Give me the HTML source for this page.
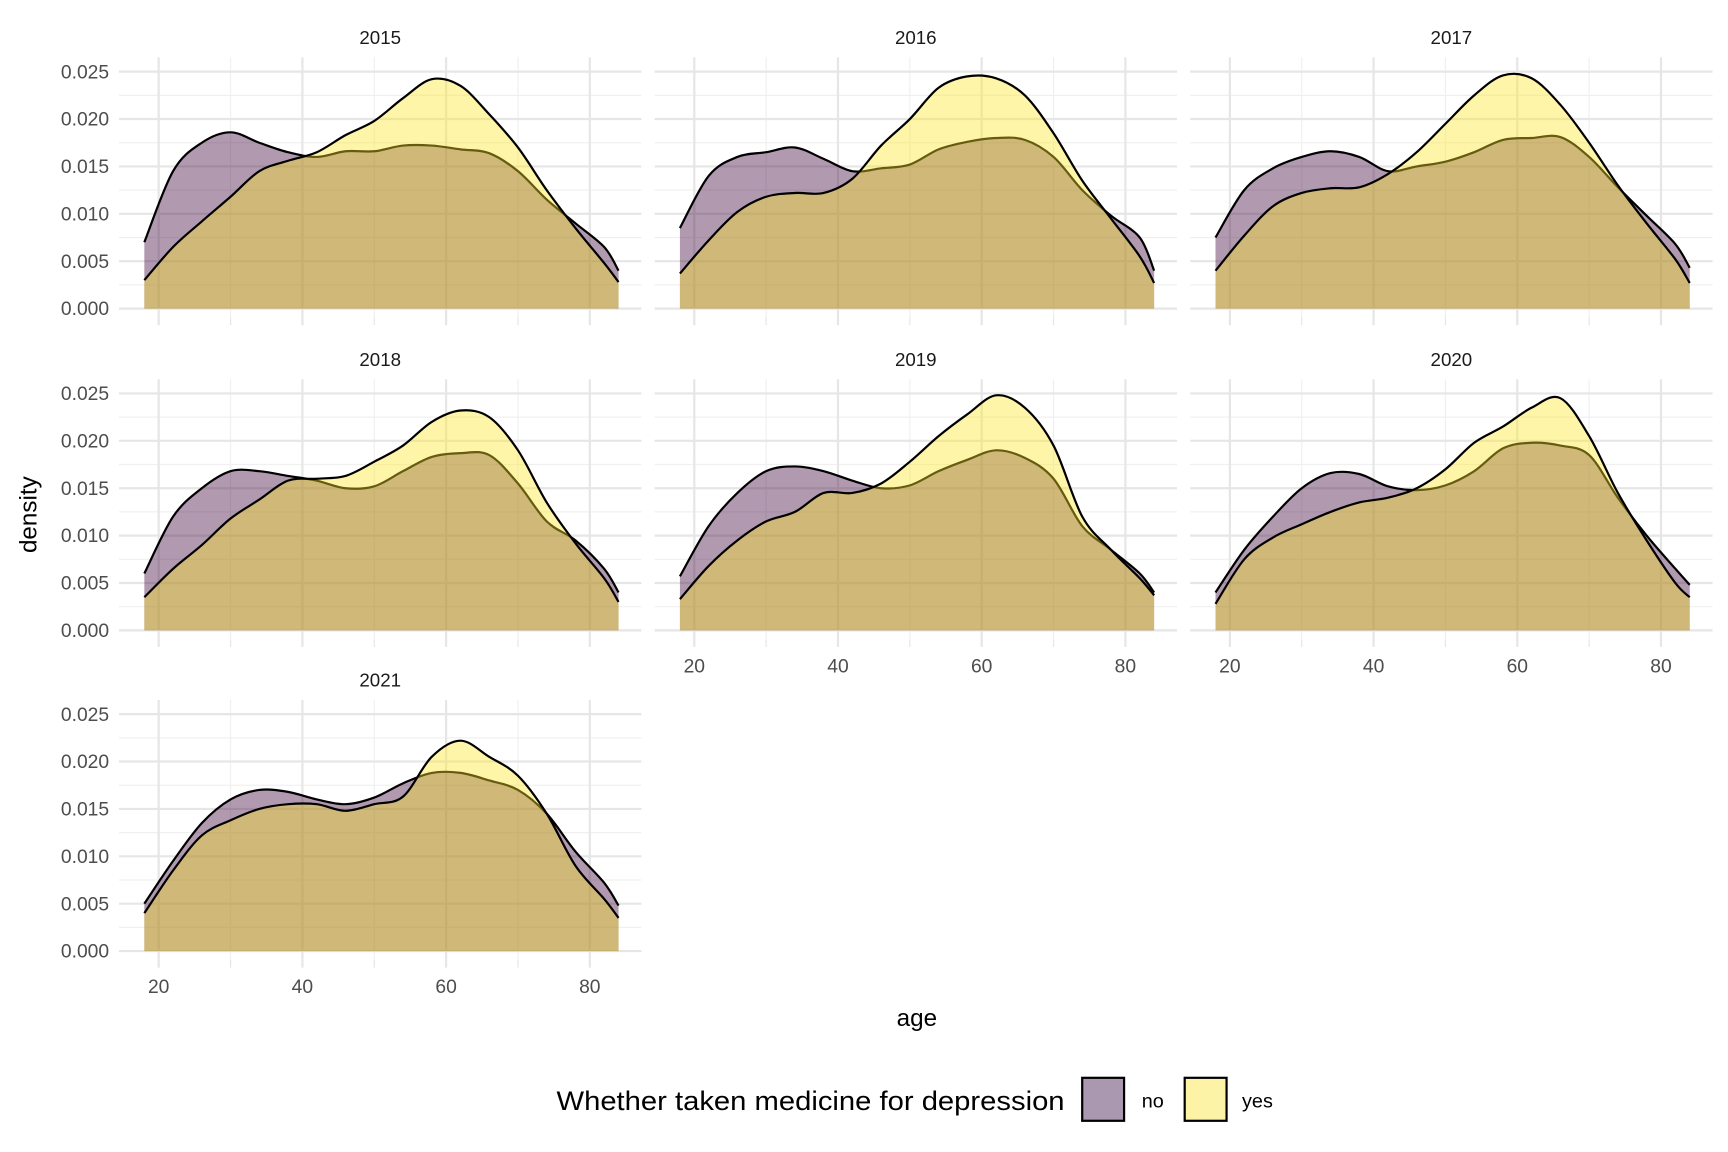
<!DOCTYPE html>
<html><head><meta charset="utf-8"><style>
html,body{margin:0;padding:0;background:#fff;}
svg{display:block;font-family:"Liberation Sans",Arial,sans-serif;}
</style></head><body>
<svg id="chart" width="1728" height="1152" viewBox="0 0 1568 1045.3" xmlns="http://www.w3.org/2000/svg">
<g id="panels"></g>
<text x="832" y="931" font-size="22" text-anchor="middle" fill="#000">age</text>
<text x="33" y="467" font-size="22" text-anchor="middle" fill="#000" transform="rotate(-90 33 467)">density</text>
<g>
<text x="966" y="1007" font-size="24" text-anchor="end" fill="#000" textLength="461" lengthAdjust="spacingAndGlyphs">Whether taken medicine for depression</text>
<rect x="982" y="978" width="38" height="39" fill="#a998b0" stroke="#000" stroke-width="2"/>
<text x="1036" y="1005" font-size="18" fill="#000">no</text>
<rect x="1075" y="978" width="38" height="39" fill="#fcf3a6" stroke="#000" stroke-width="2"/>
<text x="1127" y="1005" font-size="18" fill="#000">yes</text>
</g>
</svg>
<script>
const years = ["2015","2016","2017","2018","2019","2020","2021"];
const ages = [18,22,26,30,34,38,42,46,50,54,58,62,66,70,74,78,82,84];
const xTicks = [20,40,60,80];
const yTicks = [0,0.005,0.010,0.015,0.020,0.025];
const yTickLabels = ["0.000","0.005","0.010","0.015","0.020","0.025"];
const noVals = [
 [.007,.0145,.0175,.0186,.0175,.0165,.016,.0166,.0166,.0172,.0172,.0168,.0164,.0145,.0115,.009,.0065,.004],
 [.0085,.014,.016,.0165,.017,.0158,.0145,.0148,.0152,.0168,.0176,.018,.0178,.016,.0125,.0098,.0075,.004],
 [.0075,.0125,.0148,.016,.0166,.016,.0145,.015,.0155,.0165,.0178,.018,.0181,.016,.0128,.0098,.0068,.0043],
 [.006,.012,.015,.0168,.0168,.0163,.0158,.015,.0152,.0168,.0183,.0187,.0185,.0155,.0115,.0095,.0065,.004],
 [.0057,.011,.0145,.0168,.0173,.0168,.0158,.015,.0153,.0168,.018,.019,.0182,.016,.011,.0085,.006,.004],
 [.004,.0085,.012,.015,.0166,.0165,.0152,.0148,.0153,.0168,.0192,.0198,.0195,.0185,.014,.01,.0065,.0048],
 [.005,.0095,.0135,.016,.017,.0168,.016,.0155,.0162,.0177,.0188,.0188,.018,.017,.0145,.0105,.0072,.0048]
];
const yesVals = [
 [.003,.0065,.0092,.0118,.0145,.0156,.0165,.0183,.0198,.0222,.0242,.0235,.0205,.017,.0125,.0085,.0048,.0028],
 [.0037,.0072,.0102,.0118,.0122,.0122,.0137,.0172,.02,.0233,.0245,.0243,.0225,.0185,.0135,.0095,.0055,.0027],
 [.004,.0077,.0108,.0122,.0127,.0128,.0142,.0165,.0195,.0225,.0246,.0243,.0215,.0175,.013,.009,.0052,.0027],
 [.0035,.0065,.009,.0118,.0138,.0158,.016,.0163,.0178,.0195,.022,.0232,.0225,.019,.0135,.0092,.0055,.003],
 [.0033,.0068,.0095,.0115,.0125,.0145,.0145,.0155,.0178,.0205,.0228,.0248,.0235,.0195,.012,.0085,.0055,.0037],
 [.0028,.0075,.0098,.0112,.0125,.0135,.014,.015,.017,.0198,.0215,.0235,.0245,.0205,.0145,.0095,.005,.0035],
 [.004,.0085,.0122,.0138,.015,.0155,.0155,.0148,.0155,.0163,.0205,.0222,.0205,.0185,.0145,.009,.0055,.0035]
];
const NS="http://www.w3.org/2000/svg";
const root=document.getElementById('panels');
function mk(tag,attrs,parent){const e=document.createElementNS(NS,tag);for(const k in attrs)e.setAttribute(k,attrs[k]);parent.appendChild(e);return e;}
function smooth(pts){let d=`M${pts[0][0]},${pts[0][1]}`;for(let i=0;i<pts.length-1;i++){const p0=pts[Math.max(0,i-1)],p1=pts[i],p2=pts[i+1],p3=pts[Math.min(pts.length-1,i+2)];const c1=[p1[0]+(p2[0]-p0[0])/6,p1[1]+(p2[1]-p0[1])/6],c2=[p2[0]-(p3[0]-p1[0])/6,p2[1]-(p3[1]-p1[1])/6];d+=` C${c1[0]},${c1[1]} ${c2[0]},${c2[1]} ${p2[0]},${p2[1]}`;}return d;}
const colX=[0,486,972], rowY0=[280,572,863];
years.forEach((yr,i)=>{
 const col=i%3,row=Math.floor(i/3);
 const xs=a=>144+(a-20)*6.52+colX[col];
 const ys=v=>rowY0[row]-v*8600;
 const g=mk('g',{},root);
 
 
 const left=108+colX[col], right=582+colX[col], top=ys(0.0265), bot=rowY0[row]+8;
 [0.0025,0.0075,0.0125,0.0175,0.0225].forEach(v=>mk('line',{x1:left,x2:right,y1:ys(v),y2:ys(v),stroke:'#f0f0f0','stroke-width':1.1},g));
 [30,50,70].forEach(a=>mk('line',{x1:xs(a),x2:xs(a),y1:top,y2:bot,stroke:'#f0f0f0','stroke-width':1.1},g));
 yTicks.forEach(v=>mk('line',{x1:left,x2:right,y1:ys(v),y2:ys(v),stroke:'#e6e6e6','stroke-width':2},g));
 xTicks.forEach(a=>mk('line',{x1:xs(a),x2:xs(a),y1:top,y2:bot,stroke:'#e6e6e6','stroke-width':2},g));
 [20,30,40,50,60,70,80].forEach(a=>mk('line',{x1:xs(a),x2:xs(a),y1:bot,y2:bot+7,stroke:'#e6e6e6','stroke-width':a%20===0?2:1.1},g));
 const st=mk('text',{x:(left+right)/2,y:ys(0.0265)-12,'font-size':17,'text-anchor':'middle',fill:'#1a1a1a'},g);
 st.textContent=yr;
 
 
 if(col===0){yTicks.forEach((v,k)=>{const t=mk('text',{x:99,y:ys(v)+6,'font-size':17.5,'text-anchor':'end',fill:'#4d4d4d'},g);t.textContent=yTickLabels[k];
  
  });}
 if(row===2||(row===1&&col>0)){xTicks.forEach(a=>{const t=mk('text',{x:xs(a),y:bot+30,'font-size':17.5,'text-anchor':'middle',fill:'#4d4d4d'},g);t.textContent=a;
  
  });}
 [['no',noVals[i],'rgba(60,0,57,0.4)'],['yes',yesVals[i],'rgba(253,231,37,0.4)']].forEach(([nm,vals,fill])=>{
  const pts=ages.map((a,k)=>[xs(a),ys(vals[k])]);
  const line=smooth(pts);
  const area=mk('path',{d:line+` L${xs(84)},${ys(0)} L${xs(18)},${ys(0)} Z`,fill:fill,stroke:'none'},g);
  
  
  const ln=mk('path',{d:line,fill:'none',stroke:'#000','stroke-width':2},g);
  
  
 });
});
</script>
</body></html>
